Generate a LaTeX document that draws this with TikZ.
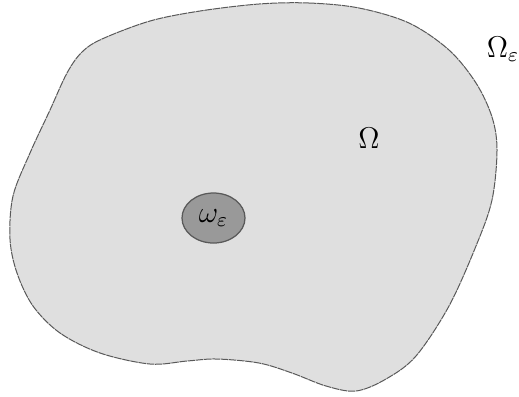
\documentclass[tikz,border=0pt]{standalone}
\usepackage{amsmath}
\usepackage{amssymb}
\usetikzlibrary{positioning,shapes.geometric}

\begin{document}
\begin{tikzpicture}[
    x=0.4pt, y=-0.4pt,
    region/.style={
        draw=black!65,
        fill=gray!25,
        line width=0.4pt,
        dash pattern=on 3pt off 0.3pt
    },
    hole/.style={
        ellipse,
        draw=black!65,
        fill=gray!80,
        line width=0.5pt,
        minimum width=25.2pt,
        minimum height=20pt,
        inner sep=0pt,
        font=\large
    },
    domlabel/.style={
        font=\large,
        inner sep=1pt
    }
]

\useasboundingbox (0,0) rectangle (519,396);

% outer domain
\draw [region] plot [smooth cycle, tension=0.55] coordinates {
    (259,4) (309,3) (359,8) (409,23) (449,50) (476,83) (492,117) (497,150)
    (492,200) (476,246) (449,306) (416,356) (386,379) (356,391)
    (326,386) (292,373) (259,363) (217,359) (187,361) (150,364)
    (100,353) (60,333) (33,306) (17,273) (10,239) (13,196)
    (30,153) (50,110) (67,73) (82,52) (102,39) (150,21) (200,11)
};

% small inclusion
\node (omeps) [hole] at (213.5,218) {$\omega_\varepsilon$};

\node (Om) [domlabel] at (369,138) {$\Omega$};
\node (Omeps) [domlabel] at (503,49) {$\Omega_\varepsilon$};

\end{tikzpicture}
\end{document}
